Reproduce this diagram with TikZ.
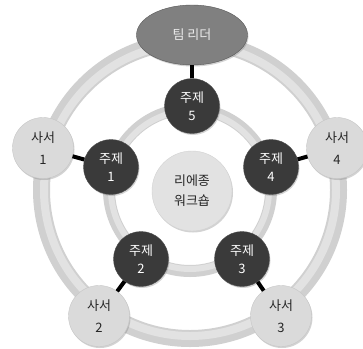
\documentclass[tikz,border=0pt]{standalone}
\usepackage{fontspec}
\setmainfont{Noto Sans CJK KR}
\usetikzlibrary{shapes.geometric,shadows}
\definecolor{ringbase}{HTML}{D0D0D0}
\definecolor{ringlight}{HTML}{E2E2E2}
\definecolor{leadfill}{HTML}{808080}
\definecolor{topicfill}{HTML}{3A3A3A}
\definecolor{libfill}{HTML}{DADADA}
\definecolor{centfill}{HTML}{E2E2E2}
\begin{document}
\begin{tikzpicture}[x=1pt,y=-1pt,
  shadowed/.style={drop shadow={shadow xshift=1pt,shadow yshift=-1.5pt,opacity=0.35}},
  lead/.style={ellipse,shadowed,fill=leadfill,draw=gray!70!black,line width=0.4pt,
    minimum width=111pt,minimum height=60pt,inner sep=0pt,text=white!92!black,
    font=\fontsize{13}{15}\selectfont},
  topic/.style={circle,shadowed,fill=topicfill,draw=gray!60!black,line width=0.4pt,
    minimum size=55pt,inner sep=0pt,text=white,align=center,
    font=\fontsize{13}{18}\selectfont},
  lib/.style={circle,shadowed,fill=libfill,draw=gray!45,line width=0.4pt,
    minimum size=61pt,inner sep=0pt,text=black!85,align=center,
    font=\fontsize{13}{22}\selectfont},
  cent/.style={circle,shadowed,fill=centfill,draw=gray!35,line width=0.4pt,
    minimum size=80pt,inner sep=0pt,text=black!85,align=center,
    font=\fontsize{13}{20}\selectfont},
  conn/.style={line width=4pt,black}]
\useasboundingbox (0,0) rectangle (363,348);
% rings
\draw[line width=17pt,ringbase] (190,190) circle[radius=148.5];
\draw[line width=8pt,ringlight] (190,190) circle[radius=146];
\draw[line width=12pt,ringbase] (190,190) circle[radius=81];
\draw[line width=6pt,ringlight] (190,190) circle[radius=79];
% nodes
\node[lead] (leader) at (192,35) {팀 리더};
\node[cent] (center) at (192,191) {리에종\\워크숍};
\node[topic] (t5) at (192,106) {주제\\5};
\node[topic] (t1) at (111,167) {주제\\1};
\node[topic] (t4) at (271,167) {주제\\4};
\node[topic] (t2) at (141,259) {주제\\2};
\node[topic] (t3) at (242,259) {주제\\3};
\node[lib] (s1) at (43,148) {사서\\1};
\node[lib] (s4) at (337,148) {사서\\4};
\node[lib] (s2) at (99,316) {사서\\2};
\node[lib] (s3) at (281,316) {사서\\3};
% connectors
\draw[conn] (leader) -- (t5);
\draw[conn] (s1) -- (t1);
\draw[conn] (s4) -- (t4);
\draw[conn] (s2) -- (t2);
\draw[conn] (s3) -- (t3);
\end{tikzpicture}
\end{document}
